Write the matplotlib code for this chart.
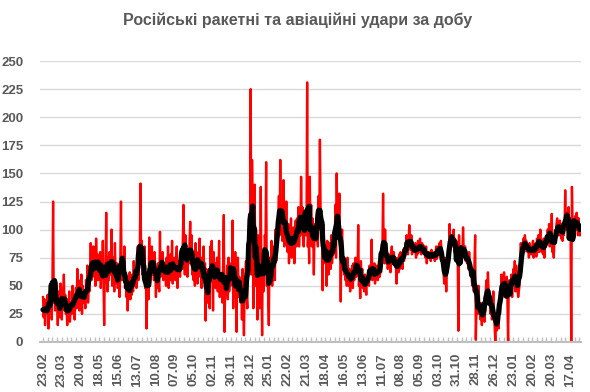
import numpy as np
import pandas as pd
import matplotlib
matplotlib.use("Agg")
import matplotlib.pyplot as plt
from matplotlib.ticker import MultipleLocator, FixedLocator

plt.rcParams['font.family'] = ['Liberation Sans', 'DejaVu Sans']

title = "Російські ракетні та авіаційні удари за добу"

# Daily strikes from 23.02.2023 (one row = one week)
daily_strikes = [
    40, 22, 38, 15, 30, 25, 35,
    42, 12, 36, 28, 50, 38, 20,
    55, 125, 35, 48, 28, 52, 40,
    38, 15, 45, 22, 30, 52, 25,
    20, 48, 35, 60, 28, 42, 25,
    30, 15, 38, 22, 45, 18, 28,
    35, 25, 50, 30, 42, 20, 38,
    48, 30, 65, 35, 55, 28, 45,
    40, 60, 25, 50, 35, 45, 38,
    30, 55, 42, 68, 35, 50, 45,
    60, 88, 55, 75, 62, 85, 58,
    70, 50, 92, 65, 78, 55, 68,
    60, 80, 48, 75, 58, 90, 55,
    15, 70, 60, 115, 55, 45, 75,
    55, 80, 60, 72, 100, 50, 65,
    75, 45, 88, 60, 52, 70, 48,
    50, 65, 40, 72, 125, 55, 60,
    70, 55, 85, 48, 62, 40, 58,
    28, 55, 45, 62, 38, 50, 42,
    60, 45, 72, 50, 58, 65, 48,
    62, 85, 55, 70, 80, 141, 75,
    90, 60, 72, 55, 85, 48, 62,
    12, 45, 60, 38, 93, 50, 55,
    72, 85, 60, 78, 55, 80, 65,
    40, 62, 48, 70, 52, 45, 98,
    58, 75, 62, 80, 55, 70, 60,
    68, 50, 75, 58, 85, 48, 62,
    55, 78, 62, 90, 52, 70, 60,
    75, 55, 68, 85, 48, 72, 60,
    62, 58, 80, 70, 65, 90, 122,
    85, 60, 95, 72, 80, 58, 75,
    70, 88, 107, 78, 95, 60, 72,
    55, 72, 50, 88, 60, 75, 52,
    80, 65, 92, 58, 75, 48, 70,
    60, 85, 55, 70, 19, 65, 50,
    35, 48, 60, 30, 85, 72, 90,
    65, 28, 80, 55, 70, 48, 58,
    75, 45, 62, 90, 40, 55, 48,
    60, 35, 70, 113, 9, 48, 42,
    52, 68, 38, 75, 45, 60, 50,
    70, 55, 108, 30, 65, 48, 80,
    55, 9, 62, 75, 40, 58, 48,
    35, 55, 20, 65, 28, 6, 48,
    58, 72, 40, 30, 85, 62, 75,
    90, 225, 60, 162, 120, 30, 110,
    140, 50, 100, 75, 20, 95, 45,
    30, 70, 138, 55, 6, 80, 45,
    60, 95, 85, 160, 50, 70, 40,
    15, 75, 60, 55, 90, 50, 70,
    65, 85, 55, 100, 72, 80, 95,
    110, 130, 95, 162, 105, 120, 90,
    100, 144, 85, 110, 95, 125, 88,
    80, 105, 70, 98, 85, 110, 75,
    95, 80, 102, 70, 90, 108, 85,
    110, 90, 120, 85, 105, 95, 147,
    105, 120, 90, 85, 110, 95, 100,
    95, 231, 85, 100, 70, 147, 90,
    122, 85, 110, 95, 60, 100, 105,
    90, 110, 95, 85, 130, 100, 180,
    120, 95, 110, 46, 105, 90, 80,
    70, 85, 50, 90, 75, 60, 82,
    88, 65, 95, 70, 80, 78, 90,
    85, 122, 75, 150, 100, 95, 110,
    132, 90, 36, 85, 100, 75, 70,
    60, 72, 55, 68, 50, 75, 62,
    50, 65, 45, 60, 55, 68, 48,
    70, 55, 62, 75, 58, 65, 60,
    104, 50, 60, 39, 72, 55, 65,
    48, 55, 45, 60, 50, 42, 58,
    55, 62, 50, 68, 58, 60, 91,
    55, 65, 58, 70, 52, 62, 60,
    68, 55, 60, 72, 58, 65, 62,
    75, 85, 132, 80, 70, 100, 78,
    70, 80, 65, 75, 68, 78, 62,
    78, 85, 70, 72, 80, 68, 75,
    72, 52, 68, 75, 62, 78, 65,
    80, 70, 78, 65, 82, 72, 75,
    88, 80, 95, 85, 78, 90, 104,
    90, 82, 95, 78, 88, 80, 85,
    80, 88, 75, 85, 78, 90, 80,
    85, 92, 80, 78, 88, 82, 86,
    78, 82, 75, 85, 70, 80, 78,
    80, 75, 78, 72, 82, 76, 78,
    75, 80, 72, 78, 85, 74, 76,
    85, 80, 88, 78, 90, 82, 80,
    70, 62, 52, 75, 60, 45, 65,
    62, 80, 75, 105, 85, 90, 95,
    95, 85, 100, 80, 92, 85, 90,
    75, 80, 10, 95, 70, 85, 72,
    85, 78, 102, 80, 75, 85, 72,
    78, 70, 75, 65, 80, 72, 68,
    65, 55, 50, 60, 45, 70, 95,
    2, 30, 45, 25, 50, 35, 28,
    20, 30, 15, 35, 22, 28, 18,
    30, 48, 55, 35, 62, 45, 38,
    35, 25, 40, 20, 30, 45, 28,
    15, 0, 25, 10, 20, 30, 12,
    28, 45, 35, 60, 40, 55, 50,
    62, 40, 55, 45, 58, 38, 0,
    48, 55, 52, 45, 60, 40, 55,
    65, 50, 72, 45, 68, 55, 48,
    40, 45, 50, 70, 88, 65, 80,
    85, 92, 80, 95, 88, 90, 85,
    80, 85, 75, 88, 82, 78, 85,
    78, 90, 75, 85, 80, 88, 76,
    92, 85, 95, 80, 90, 100, 85,
    80, 88, 78, 92, 75, 90, 85,
    95, 88, 100, 90, 105, 85, 95,
    90, 114, 80, 85, 75, 92, 88,
    95, 105, 110, 98, 102, 95, 108,
    100, 92, 105, 90, 102, 95, 100,
    135, 100, 115, 105, 110, 120, 105,
    110, 95, 0, 138, 105, 100, 95,
    105, 112, 100, 115, 108, 95, 110,
    100, 95,
]

tick_labels = ["23.02", "23.03", "20.04", "18.05", "15.06", "13.07", "10.08",
               "07.09", "05.10", "02.11", "30.11", "28.12", "25.01", "22.02",
               "21.03", "18.04", "16.05", "13.06", "11.07", "08.08", "05.09",
               "03.10", "31.10", "28.11", "26.12", "23.01", "20.02", "20.03",
               "17.04"]
y_ticks = [0, 25, 50, 75, 100, 125, 150, 175, 200, 225, 250]

days = np.arange(len(daily_strikes))
series = pd.Series(daily_strikes, index=days, dtype=float)
moving_avg = series.rolling(7, center=True, min_periods=4).mean()

text_color = "#595959"
axis_color = "#bfbfbf"

fig = plt.figure(figsize=(5.9, 3.92), dpi=100)
ax = fig.add_axes([40/590, 50/392, 541/590, 281/392])

ax.plot(days, series.values, color="#ff0000", lw=1.7, zorder=3)
ax.plot(days, moving_avg.values, color="black", lw=3.8, zorder=4,
        solid_joinstyle="round", solid_capstyle="round")

ax.set_ylim(0, 250)
ax.set_xlim(-4.5, 800.5)
ax.set_yticks(y_ticks)
ax.yaxis.grid(True, color="#d9d9d9", lw=1.0)
ax.set_axisbelow(True)

major_pos = [28 * i for i in range(len(tick_labels))]
ax.xaxis.set_major_locator(FixedLocator(major_pos))
ax.xaxis.set_minor_locator(MultipleLocator(7))
ax.set_xticklabels(tick_labels)

for s in ["top", "right", "left"]:
    ax.spines[s].set_visible(False)
ax.spines["bottom"].set_color(axis_color)
ax.spines["bottom"].set_linewidth(1.5)
ax.spines["bottom"].set_zorder(5)

ax.tick_params(axis="x", which="both", direction="in", length=3.5,
               color=axis_color, width=1.0, pad=8)
ax.tick_params(axis="x", which="major", labelsize=9.5, labelcolor=text_color,
               labelrotation=90)
ax.tick_params(axis="y", length=0, pad=12, labelsize=9.5, labelcolor=text_color)
for lbl in ax.get_xticklabels() + ax.get_yticklabels():
    lbl.set_fontweight("bold")

fig.text(0.505, 1 - 20/392, title, ha="center", va="center",
         fontsize=11.5, fontweight="bold", color=text_color)

fig.savefig("out.png", dpi=100)
